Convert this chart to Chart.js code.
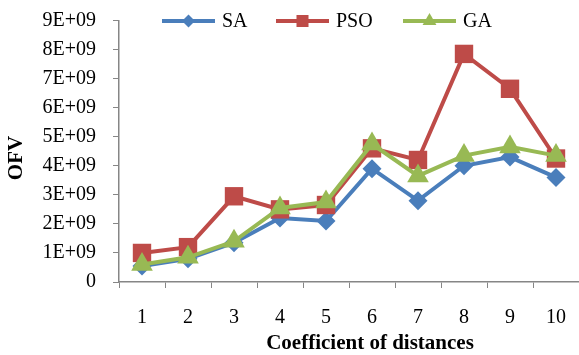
<!DOCTYPE html>
<html>
<head>
<meta charset="utf-8">
<script src="https://cdn.jsdelivr.net/npm/chart.js@4.4.0/dist/chart.umd.min.js"></script>
<style>
  html, body { margin: 0; padding: 0; background: #fff; }
  #wrap { width: 579px; height: 355px; }
</style>
</head>
<body>
<div id="wrap"><canvas id="ofv-chart" width="579" height="355"></canvas></div>
<script>
// Coefficient of distances (x categories)
const coefficients = ['1', '2', '3', '4', '5', '6', '7', '8', '9', '10'];

// OFV values
const saValues  = [0.55e9, 0.8e9, 1.35e9, 2.2e9, 2.1e9, 3.9e9, 2.8e9, 4.0e9, 4.3e9, 3.6e9];
const psoValues = [1.0e9, 1.2e9, 2.95e9, 2.5e9, 2.65e9, 4.6e9, 4.2e9, 7.85e9, 6.65e9, 4.25e9];
const gaValues  = [0.6e9, 0.85e9, 1.4e9, 2.55e9, 2.75e9, 4.75e9, 3.65e9, 4.35e9, 4.65e9, 4.35e9];

const seriesNames = ['SA', 'PSO', 'GA'];
const seriesColors = ['#4a7ebb', '#be4b48', '#98b954'];
const seriesMarkers = ['rectRot', 'rect', 'triangle'];
const markerSizes = [9.5, 13, 12.5];
const legendMarkerSizes = [6.5, 8.5, 8];

const serif = '"Liberation Serif", "Times New Roman", serif';
const axisGray = '#868686';

// Helper: format y ticks like Excel scientific labels
function sciLabel(v) {
    if (v === 0) return '0';
    const exp = Math.floor(Math.log10(v));
    const mant = Math.round(v / Math.pow(10, exp));
    return mant + 'E+' + String(exp).padStart(2, '0');
}

// Legend over the top of the plot (line + marker + name) and the two axis titles
const excelExtras = {
    id: 'excelExtras',
    afterDatasetsDraw(chart) {
        const ctx = chart.ctx;
        const starts = [162, 276, 403];
        const y = 21;
        ctx.save();
        chart.data.datasets.forEach((ds, i) => {
            const x0 = starts[i];
            ctx.strokeStyle = ds.borderColor;
            ctx.fillStyle = ds.borderColor;
            ctx.lineWidth = 4;
            ctx.beginPath();
            ctx.moveTo(x0, y);
            ctx.lineTo(x0 + 53, y);
            ctx.stroke();
            Chart.helpers.drawPoint(ctx, {
                pointStyle: ds.pointStyle,
                radius: legendMarkerSizes[i],
                rotation: 0,
                borderWidth: 0
            }, x0 + 26.5, y);
            ctx.fillStyle = '#000';
            ctx.font = '20px ' + serif;
            ctx.textBaseline = 'middle';
            ctx.textAlign = 'left';
            ctx.fillText(ds.label, x0 + 60, y + 1);
        });

        // axis titles
        ctx.fillStyle = '#000';
        ctx.font = 'bold 21px ' + serif;
        ctx.textAlign = 'center';
        ctx.textBaseline = 'middle';
        ctx.fillText('Coefficient of distances', 370, 344);
        ctx.translate(17, 158);
        ctx.rotate(-Math.PI / 2);
        ctx.fillText('OFV', 0, 0);
        ctx.restore();
    }
};

const allValues = [saValues, psoValues, gaValues];

const ctx = document.getElementById('ofv-chart').getContext('2d');
new Chart(ctx, {
    type: 'line',
    data: {
        labels: coefficients,
        datasets: allValues.map((vals, i) => ({
            label: seriesNames[i],
            data: vals,
            order: allValues.length - i, // GA drawn on top, SA at the back
            borderColor: seriesColors[i],
            backgroundColor: seriesColors[i],
            pointBackgroundColor: seriesColors[i],
            pointBorderColor: seriesColors[i],
            pointBorderWidth: 0,
            pointStyle: seriesMarkers[i],
            pointRadius: markerSizes[i],
            borderWidth: 4,
            tension: 0,
            fill: false,
            clip: false
        }))
    },
    options: {
        responsive: false,
        animation: false,
        layout: { autoPadding: false, padding: { top: 20.5, right: -3, left: 0, bottom: 0 } },
        plugins: {
            legend: { display: false },
            tooltip: { enabled: false }
        },
        scales: {
            x: {
                offset: true,
                grid: {
                    offset: true,
                    display: true,
                    drawOnChartArea: false,
                    drawTicks: true,
                    tickLength: 6,
                    color: axisGray
                },
                border: { color: axisGray, width: 1.5 },
                ticks: {
                    color: '#000',
                    font: { family: serif, size: 20 },
                    padding: 18,
                    maxRotation: 0
                },
                afterFit(scale) {
                    scale.height = 73;
                    // the plot runs off the right edge like the original, no label padding
                    scale.paddingLeft = 0;
                    scale.paddingRight = 0;
                }
            },
            y: {
                min: 0,
                max: 9e9,
                grid: {
                    display: true,
                    drawOnChartArea: false,
                    drawTicks: true,
                    tickLength: 6,
                    color: axisGray
                },
                border: { color: axisGray, width: 1.5 },
                ticks: {
                    stepSize: 1e9,
                    color: '#000',
                    font: { family: serif, size: 20 },
                    padding: 17,
                    callback: (v) => sciLabel(v)
                },
                afterFit(scale) {
                    scale.width = 119;
                    scale.paddingTop = 0;
                    scale.paddingBottom = 0;
                }
            }
        }
    },
    plugins: [excelExtras]
});
</script>
</body>
</html>
